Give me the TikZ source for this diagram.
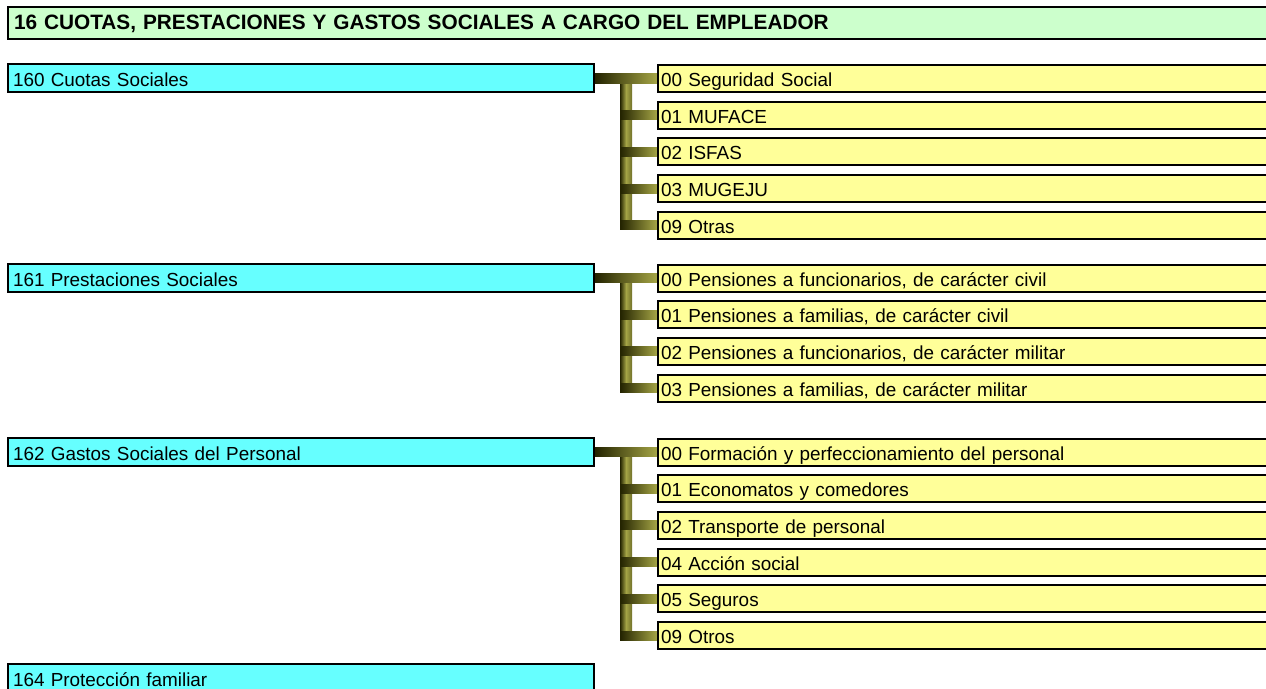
\documentclass[tikz,border=0pt]{standalone}
\usepackage{fontspec}
\setmainfont{Liberation Sans}
\usetikzlibrary{calc,backgrounds}
\definecolor{cyanbox}{RGB}{102,255,255}
\definecolor{yelbox}{RGB}{255,255,153}
\definecolor{grnbox}{RGB}{204,255,204}
\definecolor{oliveL}{RGB}{165,165,70}
\definecolor{oliveD}{RGB}{35,35,0}
\tikzset{
  basebox/.style={draw=black, line width=2pt, anchor=west, align=left, font=\fontsize{18.9}{22}\selectfont, inner ysep=0pt, text height=16pt, text depth=0pt},
  titlebox/.style={basebox, fill=grnbox, text width=1280pt, inner xsep=6pt, minimum height=32pt, font=\fontsize{20.8}{24}\selectfont\bfseries, text height=14pt, text depth=2pt},
  catbox/.style={basebox, fill=cyanbox, text width=576pt, inner xsep=5pt, minimum height=28pt},
  subbox/.style={basebox, fill=yelbox, text width=640pt, inner xsep=3pt, minimum height=27pt},
  hbar/.style={left color=oliveD, right color=oliveL},
  vbar/.style={left color=oliveD, right color=oliveD!40!oliveL, middle color=oliveL},
}
\begin{document}
\begin{tikzpicture}[x=1pt,y=-1pt]
\useasboundingbox (0,0) rectangle (1266,688);
\node[titlebox] (t) at (7,23) {16 CUOTAS, PRESTACIONES Y GASTOS SOCIALES A CARGO DEL EMPLEADOR};
% group 160
\node[catbox] (c0) at (7,78) {160 Cuotas Sociales};
\node[subbox] (a0) at (657,78.5) {00 Seguridad Social};
\node[subbox] (a1) at (657,115.2) {01 MUFACE};
\node[subbox] (a2) at (657,151.9) {02 ISFAS};
\node[subbox] (a3) at (657,188.6) {03 MUGEJU};
\node[subbox] (a4) at (657,225.3) {09 Otras};
% group 161
\node[catbox] (c1) at (7,278) {161 Prestaciones Sociales};
\node[subbox] (b0) at (657,278) {00 Pensiones a funcionarios, de carácter civil};
\node[subbox] (b1) at (657,314.7) {01 Pensiones a familias, de carácter civil};
\node[subbox] (b2) at (657,351.4) {02 Pensiones a funcionarios, de carácter militar};
\node[subbox] (b3) at (657,388.1) {03 Pensiones a familias, de carácter militar};
% group 162
\node[catbox] (c2) at (7,452) {162 Gastos Sociales del Personal};
\node[subbox] (d0) at (657,452) {00 Formación y perfeccionamiento del personal};
\node[subbox] (d1) at (657,488.7) {01 Economatos y comedores};
\node[subbox] (d2) at (657,525.4) {02 Transporte de personal};
\node[subbox] (d3) at (657,562.1) {04 Acción social};
\node[subbox] (d4) at (657,598.8) {05 Seguros};
\node[subbox] (d5) at (657,635.5) {09 Otros};
% 164
\node[catbox] (c3) at (7,678) {164 Protección familiar};
% trunks
\coordinate (ta) at (620,78);
\coordinate (tb) at (620,278);
\coordinate (td) at (620,452);
\begin{pgfonlayer}{background}
% group 160
\shade[vbar] ($(ta)+(0,4)$) rectangle ($(ta |- a4.west)+(12,4.5)$);
\shade[hbar] ($(c0.east)+(0,-4.5)$) rectangle ($(a0.west)+(0,4.5)$);
\foreach \n in {a1,a2,a3,a4}{\shade[hbar] ($(ta |- \n.west)+(0,-4.5)$) rectangle ($(\n.west)+(0,4.5)$);}
% group 161
\shade[vbar] ($(tb)+(0,4)$) rectangle ($(tb |- b3.west)+(12,4.5)$);
\shade[hbar] ($(c1.east)+(0,-4.5)$) rectangle ($(b0.west)+(0,4.5)$);
\foreach \n in {b1,b2,b3}{\shade[hbar] ($(tb |- \n.west)+(0,-4.5)$) rectangle ($(\n.west)+(0,4.5)$);}
% group 162
\shade[vbar] ($(td)+(0,4)$) rectangle ($(td |- d5.west)+(12,4.5)$);
\shade[hbar] ($(c2.east)+(0,-4.5)$) rectangle ($(d0.west)+(0,4.5)$);
\foreach \n in {d1,d2,d3,d4,d5}{\shade[hbar] ($(td |- \n.west)+(0,-4.5)$) rectangle ($(\n.west)+(0,4.5)$);}
\end{pgfonlayer}
\end{tikzpicture}
\end{document}
